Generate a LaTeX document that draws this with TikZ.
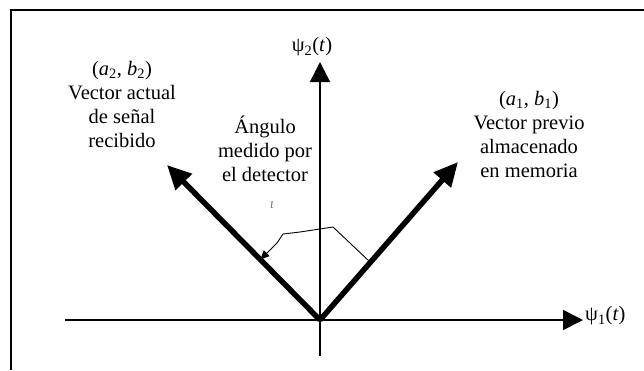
\documentclass[tikz,border=0pt]{standalone}
\usepackage{fontspec}
\setmainfont{Liberation Serif}
\usetikzlibrary{arrows.meta,calc}
\begin{document}
\begin{tikzpicture}[x=1pt,y=-1pt,
  lbl/.style={align=center,font=\fontsize{20.5}{24}\selectfont,inner sep=0pt},
  axis/.style={line width=1.4pt,-{Triangle[length=20pt,width=20pt]}},
  vec/.style={line width=5.5pt,-{Triangle[length=24pt,width=22pt]}},
  anglearrow/.style={line width=0.9pt,-{Triangle[length=9pt,width=8pt]}}]
\useasboundingbox (0,0) rectangle (644,370);
% frame
\draw[line width=2pt] (11,370) -- (11,10) -- (644,10);
% coordinates
\coordinate (O) at (320,320);
\coordinate (xl) at (65,320);
\coordinate (xr) at (583,320);
\coordinate (yb) at (320,356);
\coordinate (yt) at (320,62);
\coordinate (t2) at (167,165);
\coordinate (t1) at (458,162);
% axes
\draw[axis] (xl) -- (xr);
\draw[axis] (yb) -- (yt);
\node[lbl,anchor=west] (p1) at (585,316) {ψ\textsubscript{1}(\textit{t})};
\node[lbl] (p2) at (312,47) {ψ\textsubscript{2}(\textit{t})};
% vectors
\draw[vec] (O) -- (t2);
\draw[vec] (O) -- (t1);
% angle arrow
\coordinate (a0) at ($(O)!0.365!(t1)$);
\coordinate (a1) at (333,227);
\coordinate (a2) at (300,232);
\coordinate (a3) at (283,234);
\coordinate (a4) at (277,243);
\coordinate (a5) at ($(O)!0.39!(t2)$);
\draw[anglearrow] (a0) -- (a1) -- (a2) -- (a3) -- (a4) -- (a5);
% labels
\node[lbl] (L2) at (122,104) {(\textit{a}\textsubscript{2}, \textit{b}\textsubscript{2})\\Vector actual\\de señal\\recibido};
\node[lbl] (LA) at (265,149) {Ángulo\\medido por\\el detector};
\node[lbl] (L1) at (529,134) {(\textit{a}\textsubscript{1}, \textit{b}\textsubscript{1})\\Vector previo\\almacenado\\en memoria};
\node[lbl,text=gray,font=\fontsize{15}{15}\selectfont] (mk) at (272,205) {\textit{ι}};
\end{tikzpicture}
\end{document}
